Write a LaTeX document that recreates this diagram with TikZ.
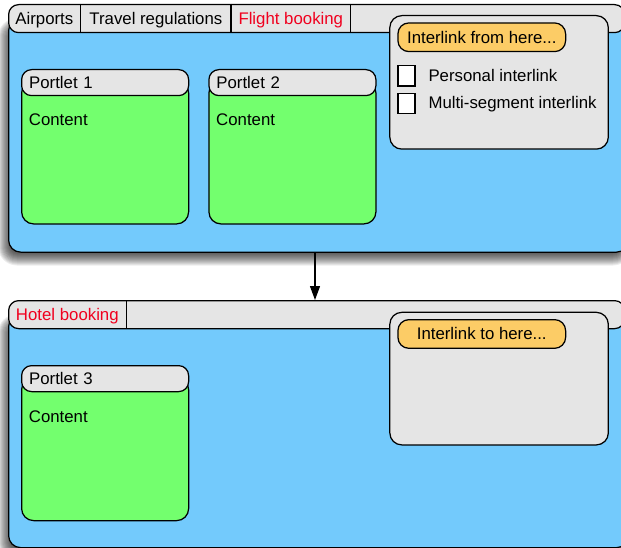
\documentclass[tikz,border=0pt]{standalone}
\usepackage{fontspec}
\setmainfont{Liberation Sans}
\usetikzlibrary{arrows.meta}

\definecolor{winblue}{RGB}{115,202,252}
\definecolor{portgreen}{RGB}{115,255,110}
\definecolor{bargray}{RGB}{229,229,229}
\definecolor{btnorange}{RGB}{252,204,102}
\definecolor{tabred}{RGB}{240,0,30}

\tikzset{
  every node/.style={font=\fontsize{16.8}{19}\selectfont},
  box/.style={draw=black, line width=1.25pt, anchor=north west, inner sep=0pt,
              rounded corners=#1},
  box/.default=0pt,
  window/.style={box=12pt, fill=winblue},
  tabbar/.style={box=10pt, fill=bargray, minimum height=28pt},
  tab/.style={anchor=north west, inner sep=0pt, minimum height=28pt,
              text height=12pt, text depth=0pt},
  body/.style={box=12pt, fill=portgreen, minimum width=167pt},
  header/.style={box=10pt, fill=bargray, minimum width=167pt, minimum height=26pt,
                 text width=152pt, align=left, inner xsep=7.5pt,
                 text height=12pt, text depth=0pt},
  panel/.style={box=12pt, fill=bargray, minimum width=218.5pt},
  button/.style={box=11pt, fill=btnorange, minimum width=167.7pt, minimum height=28.7pt,
                 text height=12pt, text depth=0pt},
  checkbox/.style={box, fill=white, minimum width=17pt, minimum height=20.5pt},
  lbl/.style={inner sep=0pt, anchor=base west},
  divider/.style={line width=1.25pt},
  link/.style={line width=1.25pt, -{Triangle[length=14pt,width=10pt]}},
}

% soft drop shadow under a rounded window body: x1 y1 x2 y2
\newcommand\castshadow[4]{%
  \foreach \k in {-7,...,7}{%
    \pgfmathsetmacro\rr{max(12+\k,1)}%
    \fill[black, opacity=0.07, rounded corners=\rr pt]
      (#1-3-\k, #2+7-\k) rectangle (#3-3+\k, #4+7+\k);
  }%
}

\begin{document}
\begin{tikzpicture}[x={(1pt,0)}, y={(0,-1pt)}]
\useasboundingbox (0,0) rectangle (621,548);
\clip (0,0) rectangle (621,548);

% ---------------- upper window ----------------
\castshadow{8}{18}{628}{251.5}
\node[window, minimum width=620pt, minimum height=233.5pt] (win1) at (8,18) {};
\node[tabbar, minimum width=616pt] (bar1) at (8,4) {};
\node[tab, minimum width=72.3pt]  (t1) at (8,4) {Airports};
\node[tab, minimum width=150pt]   (t2) at (t1.north east) {Travel regulations};
\node[tab, minimum width=119pt, text=tabred] (t3) at (t2.north east) {Flight booking};
\draw[divider] (t1.north east) -- (t1.south east);
\draw[divider] (t2.north east) -- (t2.south east);
\draw[divider] (t3.north east) -- (t3.south east);

% portlets
\node[body, minimum height=143pt] (p1) at (21,80.3) {};
\node[header] (p1h) at (21,69) {Portlet 1};
\node[lbl] (p1c) at (28.7,126) {Content};

\node[body, minimum height=143pt] (p2) at (208.3,80.3) {};
\node[header] (p2h) at (208.3,69) {Portlet 2};
\node[lbl] (p2c) at (216,126) {Content};

% outgoing interlink panel
\node[panel, minimum height=133.5pt] (from) at (389.2,15) {};
\node[button] (fromb) at (397.3,22.3) {Interlink from here...};
\node[checkbox] (cb1) at (397.3,65) {};
\node[checkbox] (cb2) at (397.3,92.7) {};
\node[lbl] (cl1) at (428.3,81.7) {Personal interlink};
\node[lbl] (cl2) at (428.3,108.3) {Multi-segment interlink};

% ---------------- lower window ----------------
\castshadow{8}{314}{628}{547}
\node[window, minimum width=620pt, minimum height=233pt] (win2) at (8,314) {};
\node[tabbar, minimum width=616pt] (bar2) at (8,300) {};
\node[tab, minimum width=118.3pt, text=tabred] (t4) at (8,300) {Hotel booking};
\draw[divider] (t4.north east) -- (t4.south east);

\node[body, minimum height=143pt] (p3) at (21,377) {};
\node[header] (p3h) at (21,365) {Portlet 3};
\node[lbl] (p3c) at (28.7,422) {Content};

% incoming interlink panel
\node[panel, minimum height=132.6pt] (to) at (389.2,311.7) {};
\node[button] (tob) at (397.3,319) {Interlink to here...};

% ---------------- link between the windows ----------------
\coordinate (ax) at (315,0);
\draw[link] (win1.south -| ax) -- (bar2.north -| ax);
\end{tikzpicture}
\end{document}
